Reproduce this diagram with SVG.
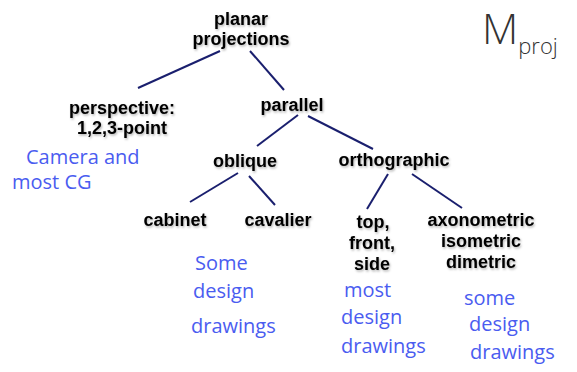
<svg xmlns="http://www.w3.org/2000/svg" width="577" height="372" viewBox="0 0 577 372">
<defs>
<filter id="sh" x="-10%" y="-30%" width="130%" height="160%">
<feDropShadow dx="1" dy="1.5" stdDeviation="1" flood-color="#000" flood-opacity="0.3"/>
</filter>
<style>
.lbl{font-family:"Liberation Sans",Arial,sans-serif;font-weight:bold;font-size:18px;fill:#000;text-anchor:middle;filter:url(#sh)}
.hw{font-family:"Open Sans","Liberation Sans",sans-serif;font-size:20px;fill:#4a5cf0;font-weight:normal}
.edge{stroke:#1a1f6e;stroke-width:2;fill:none}
</style>
</defs>
<rect width="577" height="372" fill="#fff"/>
<g id="connectors">
<line class="edge" x1="220" y1="51" x2="138" y2="88"/>
<line class="edge" x1="250" y1="51" x2="284" y2="90"/>
<line class="edge" x1="298" y1="115" x2="257" y2="146"/>
<line class="edge" x1="308" y1="116" x2="373" y2="149"/>
<line class="edge" x1="238" y1="173" x2="190" y2="202"/>
<line class="edge" x1="249" y1="176" x2="275" y2="205"/>
<line class="edge" x1="388" y1="174" x2="367" y2="209"/>
<line class="edge" x1="412" y1="174" x2="462" y2="208"/>
</g>
<g id="planar">
<text class="lbl" x="241" y="25">planar</text>
<text class="lbl" x="241" y="45">projections</text>
</g>
<g id="perspective">
<text class="lbl" x="122" y="114">perspective:</text>
<text class="lbl" x="122" y="134">1,2,3-point</text>
</g>
<g id="parallel">
<text class="lbl" x="292" y="111">parallel</text>
</g>
<g id="oblique">
<text class="lbl" x="245" y="167">oblique</text>
</g>
<g id="orthographic">
<text class="lbl" x="394" y="166">orthographic</text>
</g>
<g id="cabinet">
<text class="lbl" x="175" y="226">cabinet</text>
</g>
<g id="cavalier">
<text class="lbl" x="278" y="226">cavalier</text>
</g>
<g id="topfrontside">
<text class="lbl" x="373" y="228">top,</text>
<text class="lbl" x="372" y="249">front,</text>
<text class="lbl" x="372" y="270">side</text>
</g>
<g id="axonometric">
<text class="lbl" x="481" y="226">axonometric</text>
<text class="lbl" x="481" y="247">isometric</text>
<text class="lbl" x="481" y="268">dimetric</text>
</g>
<g id="notes">
<text class="hw" x="26" y="164">Camera and</text>
<text class="hw" x="12" y="189">most CG</text>
<text class="hw" x="195" y="270">Some</text>
<text class="hw" x="193" y="298">design</text>
<text class="hw" x="191" y="333">drawings</text>
<text class="hw" x="344" y="297">most</text>
<text class="hw" x="341" y="324">design</text>
<text class="hw" x="341" y="353">drawings</text>
<text class="hw" x="464" y="305">some</text>
<text class="hw" x="469" y="331">design</text>
<text class="hw" x="470" y="359">drawings</text>
<text x="482" y="44" font-family="'Open Sans','Liberation Sans',sans-serif" fill="#333" font-size="42" font-weight="300">M<tspan font-size="22" dy="10">proj</tspan></text>
</g>
</svg>
